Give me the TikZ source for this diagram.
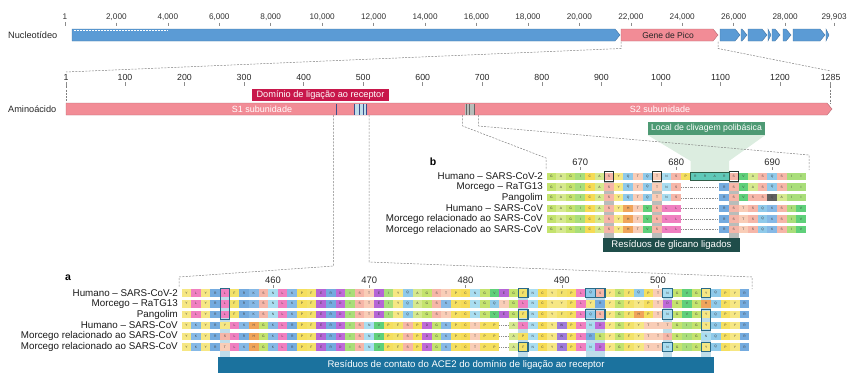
\documentclass[tikz,border=0pt]{standalone}
\usepackage{fontspec}
\setmainfont{Liberation Sans}
\usetikzlibrary{positioning}

\definecolor{gblue}{HTML}{5B9BD5}
\definecolor{spink}{HTML}{F28C96}
\definecolor{rbdred}{HTML}{C8174B}
\definecolor{cleavgreen}{HTML}{4E9A74}
\definecolor{funnelgreen}{HTML}{DCEDE0}
\definecolor{glyteal}{HTML}{1F4D4A}
\definecolor{glycol}{HTML}{B9BDBA}
\definecolor{acebar}{HTML}{1B729E}
\definecolor{acecol}{HTML}{BFDDEA}
\definecolor{contmark}{HTML}{3B4F8C}
\definecolor{boxa}{HTML}{2A6A88}
\definecolor{boxb}{HTML}{26332F}
% residue colours
\definecolor{aaA}{HTML}{D6E98E}
\definecolor{aaG}{HTML}{C4E36E}
\definecolor{aaV}{HTML}{5FD07A}
\definecolor{aaI}{HTML}{A9DE7A}
\definecolor{aaL}{HTML}{F07FC0}
\definecolor{aaM}{HTML}{F07FC0}
\definecolor{aaF}{HTML}{F3E26A}
\definecolor{aaW}{HTML}{9F7BDB}
\definecolor{aaY}{HTML}{F6E784}
\definecolor{aaC}{HTML}{F6DB55}
\definecolor{aaP}{HTML}{F5DF5E}
\definecolor{aaS}{HTML}{F6B6A8}
\definecolor{aaT}{HTML}{F9CDB7}
\definecolor{aaN}{HTML}{A9DDF0}
\definecolor{aaQ}{HTML}{8FCAEA}
\definecolor{aaH}{HTML}{F0A45A}
\definecolor{aaK}{HTML}{86B9E6}
\definecolor{aaR}{HTML}{74ABDF}
\definecolor{aaD}{HTML}{C06AD8}
\definecolor{aaE}{HTML}{B565D6}
\definecolor{aar}{HTML}{5FC9B8}
\definecolor{aaa}{HTML}{5FC9B8}
\definecolor{aaq}{HTML}{606060}

\tikzset{
  declare function={ntx(\x)=65+(\x-0.001)*25.72; aax(\x)=66+(\x-1)*0.5955;
    ax(\x)=273+(\x-460)*9.625; bx(\x)=609+(\x-673)*9.6;
    ay(\x)=293+(\x-1)*10.8; by(\x)=176.5+(\x-1)*10.6;},
  ticklbl/.style={font=\fontsize{8.2}{9}\selectfont, text=black!80, inner sep=0pt},
  numlbl/.style={font=\fontsize{9.4}{10}\selectfont, text=black!85, inner sep=0pt},
  sidelbl/.style={font=\fontsize{9.2}{10}\selectfont, text=black!85, inner sep=0pt, anchor=west},
  rowlbl/.style={font=\fontsize{9.8}{10}\selectfont, text=black!90, inner sep=0pt, anchor=east},
  panellbl/.style={font=\fontsize{10.5}{11}\selectfont\bfseries, inner sep=0pt},
  tickmk/.style={draw=black!45, line width=0.5pt},
  zoomln/.style={draw=black!50, line width=0.5pt, dash pattern=on 2pt off 1.3pt},
  genebox/.style={draw=#1!75!black, fill=#1, line width=0.4pt},
  tagbox/.style={fill=#1, text=white, inner sep=0pt},
  bartxt/.style={text=white, inner sep=0pt, font=\fontsize{9}{10}\selectfont},
  aalbl/.style={font=\fontsize{3.3}{3.3}\selectfont, text=black!75, inner sep=0pt},
  gapline/.style={draw=black!45, dash pattern=on 0.9pt off 0.9pt, line width=0.4pt},
  abox/.style={draw=boxa, line width=1.1pt},
  bbox/.style={draw=boxb, line width=1.1pt},
}

\newcommand\gene[3]{\draw[genebox=#1] (#2,29) -- ({max(#2,#3-5)},29) -- (#3,35) -- ({max(#2,#3-5)},41) -- (#2,41) -- cycle;}

% column function, first residue, pitch, row y, row name, residues
\newcommand\seqrow[6]{%
  \pgfmathsetmacro\cy{#4}
  \foreach \ltr [count=\k from 0] in {#6}{
    \pgfmathsetmacro\cx{#1(#2+\k)}
    \if z\ltr
      \draw[gapline] (\cx-#3/2,\cy) -- (\cx+#3/2,\cy);
    \else
      \fill[fill=aa\ltr] (\cx-#3/2,\cy-3.7) rectangle (\cx+#3/2,\cy+3.7);
      \node[aalbl] (#5-\k) at (\cx,\cy) {\expandafter\uppercase\expandafter{\ltr}};
    \fi
  }}
\newcommand\contbox[3]{\draw[abox] ({ax(#1)-4.7},{ay(#2)-4.7}) rectangle ({ax(#1)+4.7},{ay(#3)+4.7});}
\newcommand\sitebox[3]{\draw[bbox] ({bx(#1)-4.7},{by(#3)-4.6}) rectangle ({bx(#2)+4.7},{by(#3)+4.6});}

\begin{document}
\begin{tikzpicture}[x=1pt,y=-1pt]
  \useasboundingbox (0,0) rectangle (850,373);

  % genome (positions in thousands)
  \node[sidelbl] (nuc) at (8,35) {Nucleotídeo};
  \foreach \n/\t [count=\i] in {0.001/1,2/{2,000},4/{4,000},6/{6,000},8/{8,000},10/{10,000},12/{12,000},14/{14,000},16/{16,000},18/{18,000},20/{20,000},22/{22,000},24/{24,000},26/{26,000},28/{28,000},29.903/{29,903}}{
    \node[ticklbl] (nt\i) at ({ntx(\n)},17) {\t};
    \draw[tickmk] ([yshift=-2pt]nt\i.south) -- ++(0,3.5);
  }
  \gene{gblue}{72}{620}
  \draw[white, line width=0.6pt, dash pattern=on 1.5pt off 1.5pt] (74,30.3) -- (168,30.3);
  \gene{spink}{621}{718}
  \node[inner sep=0pt, font=\fontsize{8.5}{9}\selectfont, text=black!85] (spk) at (668,35) {Gene de Pico};
  \gene{gblue}{720}{740}
  \gene{gblue}{741}{747}
  \gene{gblue}{748}{767}
  \gene{gblue}{768}{771}
  \gene{gblue}{772}{780}
  \gene{gblue}{783}{791}
  \gene{gblue}{793}{825}
  \gene{gblue}{826}{829}

  \coordinate (spL) at (621,41.5);
  \coordinate (spR) at (718,41.5);
  \coordinate (aaL) at (66,72);
  \coordinate (aaR) at (831,71);
  \draw[zoomln] (spL) -- ++(0,7) -- (aaL);
  \draw[zoomln] (spR) -- ++(0,7) -- (aaR);

  % protein
  \node[sidelbl] (amino) at (8,109) {Aminoácido};
  \foreach \n in {1,100,200,300,400,500,600,700,800,900,1000,1100,1200,1285}{
    \node[numlbl, font=\fontsize{8.8}{9}\selectfont] (aa\n) at ({aax(\n)},77) {\n};
    \draw[tickmk] ([yshift=-2pt]aa\n.south) -- ++(0,3.5);
  }
  \draw[zoomln] ([yshift=-6pt]aa1.south) -- (66,103);
  \draw[zoomln] ([yshift=-6pt]aa1285.south) -- ({aax(1285)},103);
  \draw[genebox=spink] (66,103) -- (827,103) -- (832,109) -- (827,115) -- (66,115) -- cycle;
  \node[bartxt] (s1) at (262,109) {S1 subunidade};
  \node[bartxt] (s2) at (660,109) {S2 subunidade};
  \node[tagbox=rbdred, minimum width=137pt, minimum height=12.5pt, font=\fontsize{9.2}{10}\selectfont] (rbd) at (320.5,95) {Domínio de ligação ao receptor};
  \fill[acecol] ({aax(484)},103.5) rectangle ({aax(507)},114.5);
  \foreach \r in {455,486,493,494,501,505}
    \draw[contmark, line width=0.7pt] ({aax(\r)},103.5) -- ({aax(\r)},114.5);
  \fill[glycol] ({aax(671)},103.5) rectangle ({aax(688)},114.5);
  \foreach \r in {673,678,686}
    \draw[black!60, line width=0.7pt] ({aax(\r)},103.5) -- ({aax(\r)},114.5);

  % panel b
  \node[panellbl] (pb) at (433,162) {b};
  \node[tagbox=cleavgreen, minimum width=117pt, minimum height=13pt, font=\fontsize{8.7}{9}\selectfont] (cleav) at (706.5,128.5) {Local de clivagem polibásica};
  \fill[funnelgreen] (cleav.south west) -- (cleav.south east) -- ({bx(685)+4.8},161) -- ({bx(685)+4.8},{by(1)}) -- ({bx(682)-4.8},{by(1)}) -- ({bx(682)-4.8},161) -- cycle;
  \coordinate (glL) at ({aax(667)},115);
  \coordinate (glR) at ({aax(694)},115);
  \coordinate (bL) at (546,158);
  \coordinate (bR) at (809,155);
  \draw[zoomln] (glL) -- ++(0,11) -- (bL) -- ++(0,12);
  \draw[zoomln] (glR) -- ++(0,11) -- (bR) -- ++(0,15);
  \foreach \r in {670,680,690}{
    \node[numlbl] (tb\r) at ({bx(\r)},162) {\r};
    \draw[tickmk] ([yshift=-1.5pt]tb\r.south) -- ++(0,3);
  }
  \node[tagbox=glyteal, minimum width=137pt, minimum height=14pt, font=\fontsize{9.6}{10}\selectfont] (glyc) at (671.5,245) {Resíduos de glicano ligados};
  \foreach \r in {673,678,686}
    \fill[glycol] ({bx(\r)-4.8},{by(2)-5}) rectangle ({bx(\r)+4.8},{238});

  \node[rowlbl] (hb1) at (543,{by(1)}) {Humano – SARS-CoV-2};
  \node[rowlbl] (hb2) at (543,{by(2)}) {Morcego – RaTG13};
  \node[rowlbl] (hb3) at (543,{by(3)}) {Pangolim};
  \node[rowlbl] (hb4) at (543,{by(4)}) {Humano – SARS-CoV};
  \node[rowlbl] (hb5) at (543,{by(5)}) {Morcego relacionado ao SARS-CoV};
  \node[rowlbl] (hb6) at (543,{by(6)}) {Morcego relacionado ao SARS-CoV};
  \seqrow{bx}{667}{9.6}{by(1)}{rb1}{G,A,G,I,C,A,S,Y,Q,T,Q,T,N,S,P,r,r,a,r,S,V,A,S,Q,S,I,I}
  \seqrow{bx}{667}{9.6}{by(2)}{rb2}{G,A,G,I,C,A,S,Y,Q,T,Q,T,N,S,z,z,z,z,R,S,V,A,S,Q,S,I,I}
  \seqrow{bx}{667}{9.6}{by(3)}{rb3}{G,A,G,I,C,A,S,Y,Q,T,Q,T,N,S,z,z,z,z,R,S,V,S,S,q,A,I,I}
  \seqrow{bx}{667}{9.6}{by(4)}{rb4}{G,A,G,I,C,A,S,Y,H,T,V,S,L,L,z,z,z,z,R,S,T,S,Q,K,S,I,V}
  \seqrow{bx}{667}{9.6}{by(5)}{rb5}{G,A,G,I,C,A,S,Y,H,T,V,S,L,L,z,z,z,z,R,S,T,S,Q,K,S,I,V}
  \seqrow{bx}{667}{9.6}{by(6)}{rb6}{G,A,G,I,C,A,S,Y,H,T,V,S,L,L,z,z,z,z,R,S,T,S,Q,K,S,I,V}
  \sitebox{673}{673}{1}
  \sitebox{678}{678}{1}
  \sitebox{686}{686}{1}
  \draw[draw=cleavgreen!60!black, line width=0.9pt] ({bx(682)-4.8},{by(1)-4.3}) rectangle ({bx(685)+4.8},{by(1)+4.3});

  % panel a
  \node[panellbl] (pa) at (68,278) {a};
  \foreach \r in {460,470,480,490,500}{
    \node[numlbl] (ta\r) at ({ax(\r)},280) {\r};
    \draw[tickmk] ([yshift=-1.5pt]ta\r.south) -- ++(0,3);
  }
  \coordinate (rbdL) at ({aax(450)},115);
  \coordinate (rbdR) at ({aax(510)},115);
  \coordinate (aL) at (179,277);
  \coordinate (aR) at (752,277);
  \draw[zoomln] (rbdL) -- ({aax(450)},266) -- (aL) -- ++(0,11);
  \draw[zoomln] (rbdR) -- ({aax(510)},262) -- (aR) -- ++(0,12);
  \node[tagbox=acebar, minimum width=496pt, minimum height=16pt, font=\fontsize{9.6}{10}\selectfont] (ace) at (466,365) {Resíduos de contato do ACE2 do domínio de ligação ao receptor};
  \foreach \r in {455,486,493,494,501,505}
    \fill[acecol] ({ax(\r)-4.8},{ay(1)-5}) rectangle ({ax(\r)+4.8},{357});

  \node[rowlbl] (ha1) at (178,{ay(1)}) {Humano – SARS-CoV-2};
  \node[rowlbl] (ha2) at (178,{ay(2)}) {Morcego – RaTG13};
  \node[rowlbl] (ha3) at (178,{ay(3)}) {Pangolim};
  \node[rowlbl] (ha4) at (178,{ay(4)}) {Humano – SARS-CoV};
  \node[rowlbl] (ha5) at (178,{ay(5)}) {Morcego relacionado ao SARS-CoV};
  \node[rowlbl] (ha6) at (178,{ay(6)}) {Morcego relacionado ao SARS-CoV};
  \seqrow{ax}{451}{9.625}{ay(1)}{ra1}{Y,L,Y,R,L,F,R,K,S,N,L,K,P,F,E,R,D,I,S,T,E,I,Y,Q,A,G,S,T,P,C,N,G,V,E,G,F,N,C,Y,F,P,L,Q,S,Y,G,F,Q,P,T,N,G,V,G,Y,Q,P,Y,R}
  \seqrow{ax}{451}{9.625}{ay(2)}{ra2}{Y,L,Y,R,L,F,R,K,S,N,L,K,P,F,E,R,D,I,S,T,E,I,Y,Q,A,G,S,K,P,C,N,G,Q,T,G,L,N,C,Y,Y,P,L,Y,R,Y,G,F,Y,P,T,D,G,V,G,H,Q,P,Y,R}
  \seqrow{ax}{451}{9.625}{ay(3)}{ra3}{Y,L,Y,R,L,F,R,K,S,N,L,K,P,F,E,R,D,I,S,T,E,I,Y,Q,A,G,S,T,P,C,N,G,V,E,G,F,N,C,Y,F,P,L,Q,S,Y,G,F,H,P,T,N,G,V,G,Y,Q,P,Y,R}
  \seqrow{ax}{451}{9.625}{ay(4)}{ra4}{Y,K,Y,R,Y,L,K,H,G,K,L,R,P,F,E,R,D,I,S,N,V,P,F,S,P,D,G,K,P,C,T,P,P,z,A,L,N,C,Y,W,P,L,N,D,Y,G,F,Y,T,T,T,G,I,G,Y,Q,P,Y,R}
  \seqrow{ax}{451}{9.625}{ay(5)}{ra5}{Y,K,Y,R,S,L,R,H,G,K,L,R,P,F,E,R,D,I,S,N,V,P,F,S,P,D,G,K,P,C,T,P,P,z,A,P,N,C,Y,W,P,L,R,G,Y,G,F,Y,T,T,S,G,I,G,N,Q,P,Y,R}
  \seqrow{ax}{451}{9.625}{ay(6)}{ra6}{Y,K,Y,R,T,L,K,H,G,K,L,R,P,F,E,R,D,I,S,N,V,P,F,S,P,D,G,K,P,C,T,P,P,z,A,F,N,C,Y,W,P,L,N,D,Y,G,F,Y,T,T,N,G,I,G,Y,Q,P,Y,R}
  \contbox{455}{1}{3}
  \foreach \r in {486,493,494,501,505}{
    \contbox{\r}{1}{1}
  }
  \foreach \r in {486,493,494,501}{
    \contbox{\r}{3}{3}
  }
  \contbox{505}{3}{4}
  \contbox{486}{6}{6}
  \contbox{501}{6}{6}
  \contbox{505}{6}{6}
\end{tikzpicture}
\end{document}
